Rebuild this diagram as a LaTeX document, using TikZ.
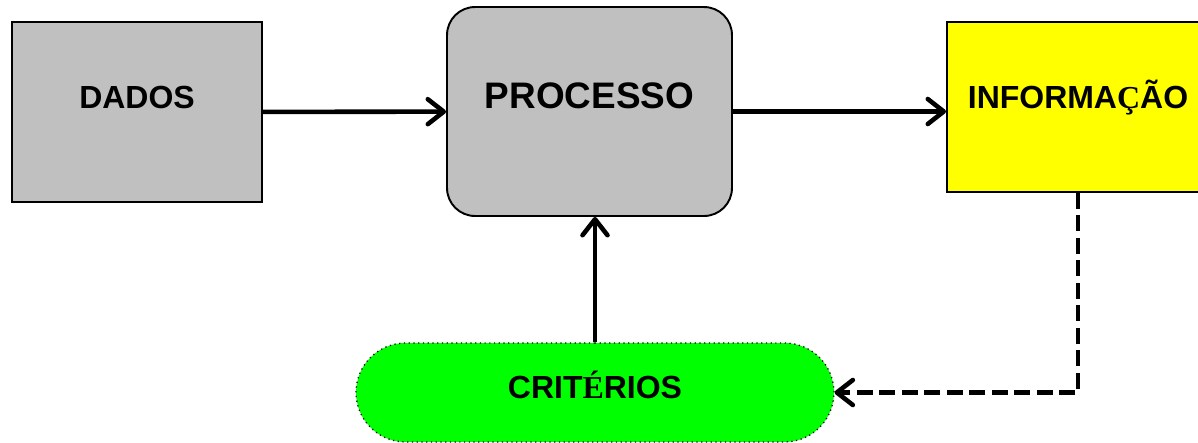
\documentclass[tikz,border=0pt]{standalone}
\usepackage{fontspec}
\setmainfont{Liberation Sans}
\newfontfamily\serifchar{Liberation Serif}
\usetikzlibrary{arrows.meta,shapes.misc}

\definecolor{boxgray}{RGB}{192,192,192}
\definecolor{infoyellow}{RGB}{255,255,0}
\definecolor{critgreen}{RGB}{0,255,0}

\begin{document}
\begin{tikzpicture}[x=0.02cm, y=-0.02cm,
    box/.style={draw, line width=1.1pt, inner xsep=0pt, inner ysep=0pt,
      font=\fontsize{18.2}{20}\selectfont\bfseries},
    arr/.style={line width=2.6pt, -{Straight Barb[length=0.32cm, width=0.5cm, line cap=round, line join=round]}},
    dash arr/.style={arr, dash pattern=on 0.32cm off 0.13cm}]
  \useasboundingbox (0,0) rectangle (1198,443);
  \node[box, fill=boxgray, minimum width=5cm,
    text height=1.72cm, text depth=1.88cm] (dados) at (137,112) {DADOS};
  \node[box, fill=boxgray, rounded corners=0.56cm,
    minimum width=5.7cm, text height=2.02cm, text depth=2.16cm,
    font=\fontsize{21}{24}\selectfont\bfseries] (proc) at (589.5,111.5) {PROCESSO};
  \node[box, fill=infoyellow, minimum width=5.24cm,
    text height=1.72cm, text depth=1.68cm] (info) at (1078,107) {INFORMA{\serifchar Ç}ÃO};
  \node[box, rounded rectangle, fill=critgreen, line width=0.7pt, dotted,
    minimum width=9.56cm, text height=1.1cm, text depth=0.88cm] (crit) at (595,392.5) {CRIT{\serifchar É}RIOS};
  % connectors
  \draw[arr] (dados) -- (proc);
  \draw[arr] (proc.east) -- (proc.east -| info.west);
  \draw[arr] (crit.north) -- (crit.north |- proc.south);
  \draw[dash arr] (info.south) |- (crit.east);
\end{tikzpicture}
\end{document}
